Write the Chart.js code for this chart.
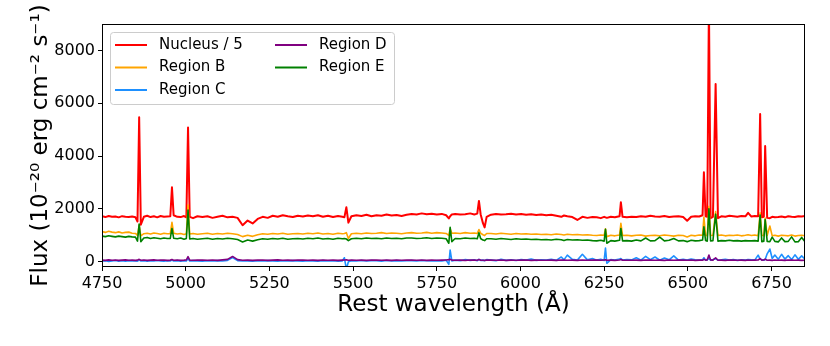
<!DOCTYPE html>
<html>
<head>
<meta charset="utf-8">
<script src="https://cdn.jsdelivr.net/npm/chart.js@4.4.1/dist/chart.umd.min.js"></script>
<style>
html, body { margin: 0; padding: 0; background: #fff; }
</style>
</head>
<body>
<canvas id="espectro" width="830" height="346"></canvas>
<script>
// wavelengths (Angstrom), denser around the emission lines
const wave = [
    4750, 4760, 4770, 4780, 4790, 4800, 4810, 4820, 4830, 4840, 4850,
    4856, 4861, 4866, 4875, 4885, 4895, 4905, 4915, 4925, 4935, 4945,
    4954, 4959, 4964, 4975, 4985, 4995, 5002, 5007, 5012, 5022, 5035,
    5050, 5065, 5080, 5095, 5110, 5125, 5140, 5155, 5170, 5185, 5200,
    5215, 5230, 5245, 5260, 5275, 5290, 5305, 5320, 5335, 5350, 5365,
    5380, 5395, 5410, 5425, 5440, 5455, 5468, 5474, 5480, 5486, 5495,
    5510, 5525, 5540, 5555, 5570, 5585, 5600, 5615, 5630, 5645, 5660,
    5675, 5690, 5705, 5720, 5735, 5750, 5765, 5778, 5786, 5790, 5795,
    5805, 5820, 5835, 5850, 5862, 5871, 5876, 5881, 5888, 5893, 5899,
    5912, 5927, 5942, 5957, 5972, 5987, 6002, 6017, 6032, 6047, 6062,
    6077, 6092, 6107, 6122, 6130, 6140, 6155, 6170, 6185, 6200, 6215,
    6228, 6240, 6250, 6254, 6258, 6270, 6282, 6296, 6300, 6305, 6318,
    6332, 6346, 6360, 6374, 6388, 6402, 6416, 6430, 6444, 6458, 6472,
    6486, 6498, 6510, 6522, 6534, 6544, 6548, 6553, 6558, 6563, 6568,
    6575, 6583, 6590, 6600, 6612, 6624, 6636, 6648, 6660, 6672, 6680,
    6690, 6700, 6710, 6716, 6721, 6727, 6731, 6737, 6745, 6752, 6760,
    6770, 6780, 6790, 6800, 6810, 6820, 6830, 6840, 6850
];

// Nucleus / 5
const nucleus = [
    1720, 1690, 1730, 1700, 1715, 1680, 1725, 1700, 1690, 1710, 1680,
    1520, 5470, 1400, 1700, 1740, 1690, 1720, 1680, 1730, 1700, 1710,
    1720, 2820, 1760, 1700, 1690, 1730, 1680, 5080, 1700, 1650, 1720,
    1690, 1720, 1660, 1700, 1740, 1680, 1700, 1660, 1380, 1560, 1450,
    1620, 1700, 1660, 1740, 1700, 1760, 1720, 1690, 1740, 1710, 1750,
    1720, 1760, 1700, 1740, 1690, 1730, 1700, 1680, 2060, 1480, 1720,
    1760, 1730, 1780, 1720, 1760, 1740, 1790, 1750, 1770, 1730, 1780,
    1810, 1790, 1830, 1800, 1820, 1790, 1810, 1760, 1640, 1720, 1790,
    1810, 1790, 1800, 1830, 1790, 1820, 2300, 1800, 1460, 1300, 1700,
    1780, 1810, 1790, 1800, 1820, 1790, 1810, 1780, 1800, 1770, 1790,
    1760, 1780, 1740, 1700, 1750, 1720, 1690, 1580, 1700, 1660, 1690,
    1680, 1650, 1700, 1680, 1660, 1700, 1680, 1720, 2250, 1700, 1680,
    1700, 1690, 1720, 1700, 1740, 1710, 1700, 1730, 1690, 1710, 1720,
    1690, 1550, 1700, 1720, 1710, 1760, 3390, 1720, 1700, 9800, 1650,
    1700, 6730, 1650, 1720, 1700, 1740, 1720, 1700, 1730, 1720, 1850,
    1710, 1730, 1720, 5590, 1680, 1700, 4380, 1660, 1650, 1700, 1680,
    1690, 1710, 1680, 1720, 1700, 1690, 1720, 1710, 1730
];

const regionB = [
    1140, 1110, 1150, 1120, 1100, 1130, 1090, 1110, 1120, 1080, 1070,
    1000, 1380, 980, 1060, 1080, 1050, 1090, 1070, 1040, 1080, 1060,
    1060, 1490, 1080, 1050, 1070, 1030, 1060, 2150, 1050, 1070, 1040,
    1060, 1080, 1040, 1070, 1050, 1080, 1060, 1030, 950, 1000, 960,
    1020, 1060, 1040, 1070, 1050, 1080, 1040, 1060, 1070, 1050, 1080,
    1060, 1090, 1050, 1070, 1040, 1080, 1060, 1070, 1100, 880, 1060,
    1080, 1060, 1090, 1070, 1080, 1100, 1070, 1090, 1080, 1060, 1090,
    1100, 1080, 1090, 1110, 1080, 1100, 1090, 1070, 1000, 1250, 1080,
    1090, 1070, 1100, 1080, 1090, 1070, 1220, 1080, 1020, 990, 1070,
    1070, 1050, 1080, 1060, 1040, 1070, 1050, 1060, 1040, 1050, 1030,
    1040, 1020, 1050, 1030, 1010, 1040, 1020, 1030, 1010, 1020, 1000,
    990, 1010, 1000, 1250, 950, 1000, 980, 1010, 1450, 990, 1000,
    980, 1000, 1010, 970, 990, 1000, 980, 1010, 990, 970, 1000,
    990, 940, 1000, 980, 1010, 1000, 1690, 1000, 980, 2100, 990,
    1000, 1900, 990, 1010, 980, 1000, 990, 1010, 980, 1000, 1020,
    990, 1010, 980, 1850, 1000, 980, 1650, 990, 1350, 980, 1000,
    970, 1000, 990, 980, 1010, 970, 990, 1000, 980
];

const regionC = [
    20, 40, 10, 30, 45, 15, 35, 20, 40, 25, 30,
    20, 60, 30, 40, 20, 35, 25, 45, 30, 20, 35,
    30, 60, 25, 40, 20, 35, 30, 120, 25, 40, 30,
    20, 35, 25, 40, 30, 50, 160, 40, 25, 30, 20,
    35, 25, 40, 30, 20, 35, 25, 40, 30, 20, 35,
    30, 20, 40, 25, 35, 20, 30, 150, -280, 0, 40,
    30, 45, 25, 40, 35, 20, 45, 30, 40, 25, 35,
    40, 30, 45, 35, 25, 40, 30, 60, -100, 440, 30,
    60, 40, 80, 50, 70, 40, 90, 50, 60, 40, 80,
    60, 40, 90, 50, 70, 45, 80, 60, 100, 50, 70,
    60, 90, 50, 180, 70, 250, 90, 60, 280, 70, 120,
    60, 90, 50, 520, -60, 80, 60, 100, 120, 60, 80,
    70, 150, 60, 200, 80, 180, 60, 140, 70, 220, 60,
    90, 60, 100, 70, 60, 80, 150, 60, 70, 130, 60,
    80, 110, 60, 70, 90, 60, 80, 50, 70, 60, 80,
    70, 60, 250, 100, 70, 60, 80, 300, 480, 120, 250,
    90, 280, 100, 230, 80, 260, 90, 220, 100
];

const regionD = [
    60, 50, 70, 55, 65, 50, 60, 70, 55, 60, 50,
    60, 90, 55, 65, 50, 60, 70, 55, 60, 65, 50,
    60, 80, 55, 65, 50, 60, 70, 190, 60, 55, 65,
    60, 55, 65, 50, 70, 90, 200, 80, 55, 60, 50,
    60, 65, 50, 60, 70, 55, 60, 50, 65, 60, 55,
    60, 50, 65, 55, 60, 50, 60, 65, 70, 55, 60,
    55, 60, 50, 65, 60, 55, 60, 50, 65, 55, 60,
    60, 55, 65, 50, 60, 55, 60, 65, 80, 90, 60,
    55, 60, 50, 65, 60, 55, 80, 60, 55, 50, 60,
    60, 55, 65, 50, 60, 55, 60, 65, 50, 60, 55,
    55, 60, 50, 65, 60, 55, 60, 50, 65, 55, 60,
    60, 55, 65, 70, 55, 60, 50, 65, 80, 60, 55,
    55, 60, 50, 65, 60, 55, 60, 50, 65, 55, 60,
    60, 55, 65, 50, 60, 55, 90, 60, 70, 250, 65,
    60, 150, 55, 60, 50, 65, 60, 55, 60, 50, 65,
    55, 60, 65, 120, 60, 65, 100, 55, 60, 50, 65,
    55, 60, 50, 65, 60, 55, 60, 50, 55
];

const regionE = [
    970, 950, 980, 960, 940, 970, 950, 930, 960, 940, 930,
    780, 1430, 760, 900, 920, 880, 910, 890, 870, 900, 880,
    880, 1260, 890, 870, 900, 850, 880, 1960, 860, 880, 850,
    870, 890, 850, 880, 860, 890, 870, 840, 750, 820, 780,
    830, 870, 850, 880, 860, 890, 850, 870, 880, 860, 890,
    870, 900, 860, 880, 850, 890, 870, 880, 860, 800, 870,
    890, 870, 900, 880, 890, 870, 900, 880, 890, 870, 900,
    900, 880, 890, 910, 880, 900, 890, 870, 700, 1300, 760,
    880, 870, 900, 880, 890, 870, 1100, 880, 820, 800, 870,
    870, 850, 880, 860, 840, 870, 850, 860, 840, 850, 830,
    840, 820, 850, 830, 800, 840, 820, 830, 810, 820, 800,
    790, 810, 780, 1230, 700, 800, 780, 810, 1260, 790, 800,
    780, 820, 790, 900, 790, 800, 930, 790, 810, 880, 790,
    800, 760, 810, 790, 800, 820, 1320, 800, 780, 2000, 790,
    800, 1800, 780, 800, 790, 810, 790, 800, 780, 800, 790,
    790, 800, 780, 1770, 760, 780, 1600, 770, 760, 930, 770,
    750, 900, 760, 770, 940, 750, 760, 920, 760
];

const seriesNames = ["Nucleus / 5", "Region B", "Region C", "Region D", "Region E"];
const seriesColors = ["#ff0000", "#ffa500", "#1e90ff", "#800080", "#008000"];
const seriesValues = [nucleus, regionB, regionC, regionD, regionE];

const xTicks = [4750, 5000, 5250, 5500, 5750, 6000, 6250, 6500, 6750];
const yTicks = [0, 2000, 4000, 6000, 8000];

const fuente = "'DejaVu Sans', sans-serif";

// frame around the plot + legend box in two columns (like matplotlib ncol=2)
const marcoYLeyenda = {
    id: "marcoYLeyenda",
    afterDatasetsDraw(chart) {
        const ctx = chart.ctx;
        const a = chart.chartArea;
        ctx.save();
        ctx.strokeStyle = "#000";
        ctx.lineWidth = 1;
        ctx.strokeRect(a.left + 0.5, a.top + 0.5, a.right - a.left - 1, a.bottom - a.top - 1);

        const bx = a.left + 8, by = a.top + 8, bw = 284, bh = 72;
        ctx.beginPath();
        ctx.roundRect(bx + 0.5, by + 0.5, bw, bh, 3);
        ctx.fillStyle = "rgba(255,255,255,0.8)";
        ctx.fill();
        ctx.strokeStyle = "#cccccc";
        ctx.stroke();

        ctx.font = "15px " + fuente;
        ctx.textBaseline = "middle";
        ctx.textAlign = "left";
        seriesNames.forEach((nombre, i) => {
            const col = i < 3 ? 0 : 1;
            const fila = i < 3 ? i : i - 3;
            const x0 = bx + 5 + col * 160;
            const y0 = by + 13 + fila * 22.5;
            ctx.strokeStyle = seriesColors[i];
            ctx.lineWidth = 2;
            ctx.beginPath();
            ctx.moveTo(x0, y0);
            ctx.lineTo(x0 + 32, y0);
            ctx.stroke();
            ctx.fillStyle = "#000";
            ctx.fillText(nombre, x0 + 44, y0);
        });
        ctx.restore();
    }
};

const canvas = document.getElementById("espectro").getContext("2d");

new Chart(canvas, {
    type: "line",
    data: {
        datasets: seriesNames.map((nombre, i) => ({
            label: nombre,
            data: wave.map((w, k) => ({ x: w, y: seriesValues[i][k] })),
            borderColor: seriesColors[i],
            backgroundColor: seriesColors[i],
            borderWidth: i === 0 ? 2 : 1.6,
            borderJoinStyle: "round",
            pointRadius: 0,
            tension: 0,
            fill: false,
            order: 5 - i
        }))
    },
    options: {
        responsive: false,
        animation: false,
        devicePixelRatio: 1,
        layout: { padding: { top: 24, right: 25, left: 0, bottom: 0 } },
        plugins: {
            legend: { display: false },
            tooltip: { enabled: false }
        },
        scales: {
            x: {
                type: "linear",
                min: 4750,
                max: 6850,
                afterBuildTicks: s => { s.ticks = xTicks.map(v => ({ value: v })); },
                afterFit: s => { s.height = 79; },
                grid: { drawOnChartArea: false, drawTicks: true, tickLength: 4, color: "#000", tickColor: "#000" },
                border: { display: false },
                ticks: {
                    maxRotation: 0,
                    autoSkip: false,
                    padding: 3,
                    color: "#000",
                    font: { family: fuente, size: 16 },
                    callback: v => String(v)
                },
                title: {
                    display: true,
                    text: "Rest wavelength (Å)",
                    color: "#000",
                    font: { family: fuente, size: 23 },
                    padding: { top: 0, bottom: 27 }
                }
            },
            y: {
                min: -200,
                max: 9000,
                afterBuildTicks: s => { s.ticks = yTicks.map(v => ({ value: v })); },
                afterFit: s => { s.width = 102; },
                grid: { drawOnChartArea: false, drawTicks: true, tickLength: 4, color: "#000", tickColor: "#000" },
                border: { display: false },
                ticks: {
                    padding: 3,
                    color: "#000",
                    font: { family: fuente, size: 16 },
                    callback: v => String(v)
                },
                title: {
                    display: true,
                    text: "Flux (10⁻²⁰ erg cm⁻² s⁻¹)",
                    color: "#000",
                    font: { family: fuente, size: 23 },
                    padding: { top: 27, bottom: 0 }
                }
            }
        }
    },
    plugins: [marcoYLeyenda]
});
</script>
</body>
</html>
